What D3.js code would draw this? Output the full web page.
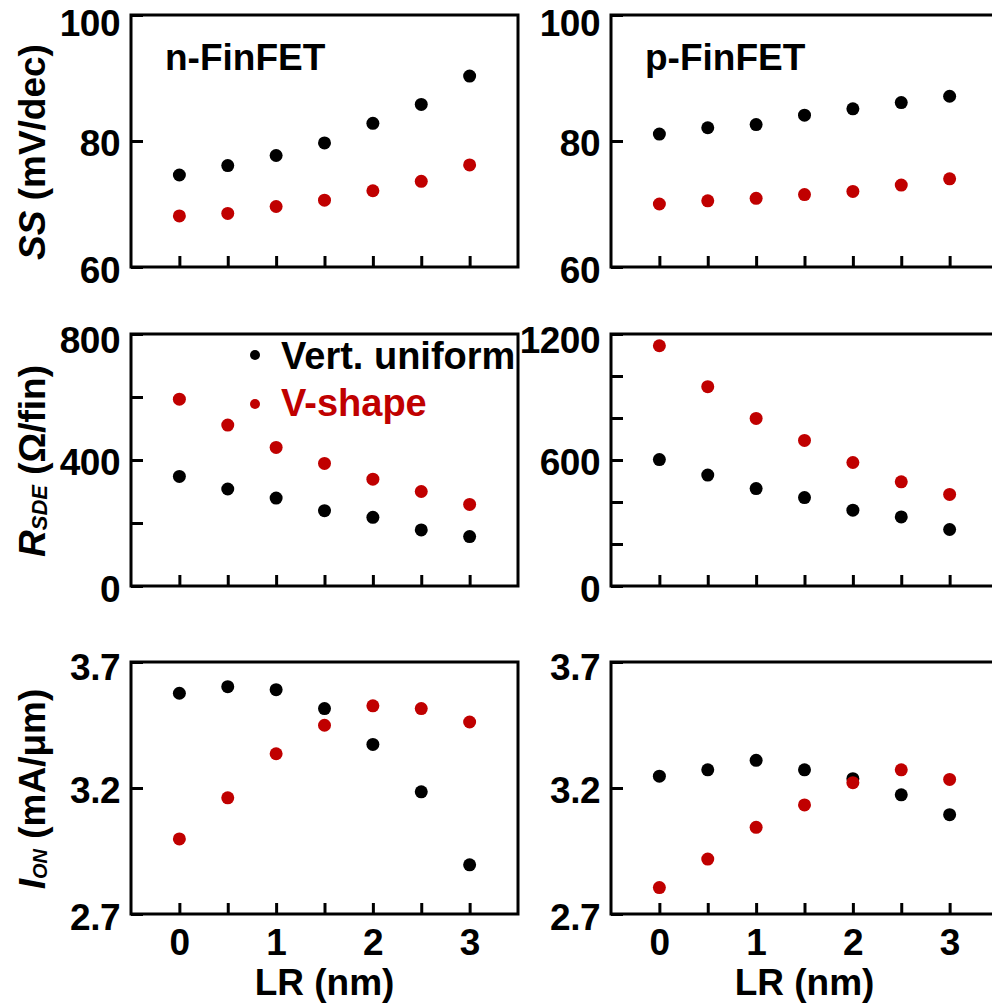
<!DOCTYPE html>
<html>
<head>
<meta charset="utf-8">
<script src="https://cdn.jsdelivr.net/npm/d3@7"></script>
<style>
  html, body { margin: 0; padding: 0; background: #fff; }
  svg { display: block; }
  text { font-family: "Liberation Sans", Arial, sans-serif; font-weight: bold; }
</style>
</head>
<body>
<svg id="chart" width="992" height="1006"></svg>
<script>
// ---------------- data ----------------
const lr = [0, 0.5, 1, 1.5, 2, 2.5, 3];
const seriesNames = ["Vert. uniform", "V-shape"];
const seriesColors = ["#000000", "#c00000"];

const ssN_uniform = [74.6, 76.1, 77.7, 79.7, 82.8, 85.8, 90.3];
const ssN_vshape  = [68.1, 68.5, 69.6, 70.6, 72.1, 73.6, 76.2];
const ssP_uniform = [81.1, 82.1, 82.6, 84.1, 85.1, 86.1, 87.1];
const ssP_vshape  = [70.0, 70.5, 70.9, 71.5, 72.0, 73.0, 74.0];

const rN_uniform = [348, 308, 279, 239, 218, 178, 157];
const rN_vshape  = [593, 511, 440, 389, 339, 300, 259];
const rP_uniform = [602, 528, 464, 421, 361, 329, 269];
const rP_vshape  = [1144, 949, 798, 693, 588, 496, 436];

const ionN_uniform = [3.576, 3.602, 3.590, 3.515, 3.373, 3.185, 2.895];
const ionN_vshape  = [2.998, 3.161, 3.336, 3.449, 3.526, 3.515, 3.462];
const ionP_uniform = [3.247, 3.272, 3.310, 3.272, 3.237, 3.173, 3.094];
const ionP_vshape  = [2.805, 2.918, 3.044, 3.133, 3.221, 3.272, 3.234];

const xTickValues = [0, 0.5, 1, 1.5, 2, 2.5, 3];
const xTickLabels = [0, 1, 2, 3];

const ssTicks = [60, 80, 100];
const ssLabels = [60, 80, 100];
const rNTicks = [0, 200, 400, 600, 800];
const rNLabels = [0, 400, 800];
const rPTicks = [0, 200, 400, 600, 800, 1000, 1200];
const rPLabels = [0, 600, 1200];
const ionTicks = [2.7, 3.2, 3.7];
const ionLabels = [2.7, 3.2, 3.7];

const deviceTitles = ["n-FinFET", "p-FinFET"];
const xTitle = "LR (nm)";

// ---------------- layout ----------------
const svg = d3.select("#chart");
svg.append("rect").attr("width", 992).attr("height", 1006).attr("fill", "#fff");

const FS = 37;
const colX = [131, 611];
const rowY = [15, 334, 662];
const PW = 387, PH = 252;
const topShift = [6, 4, 3];   // downward nudge of the top tick label in each row

const rows = [
  { domain: [60, 100], ticks: ssTicks, labels: ssLabels, fmt: d3.format("d"),
    data: [[ssN_uniform, ssN_vshape], [ssP_uniform, ssP_vshape]], ticksR: null },
  { domain: [0, 800], ticks: rNTicks, labels: rNLabels, fmt: d3.format("d"),
    data: [[rN_uniform, rN_vshape], [rP_uniform, rP_vshape]],
    domainR: [0, 1200], ticksR: rPTicks, labelsR: rPLabels },
  { domain: [2.7, 3.7], ticks: ionTicks, labels: ionLabels, fmt: d3.format(".1f"),
    data: [[ionN_uniform, ionN_vshape], [ionP_uniform, ionP_vshape]], ticksR: null }
];

rows.forEach((row, ri) => {
  [0, 1].forEach(ci => {
    const x0 = colX[ci], y0 = rowY[ri];
    const g = svg.append("g").attr("transform", `translate(${x0},${y0})`);
    const dom = (ci === 1 && row.domainR) ? row.domainR : row.domain;
    const ticks = (ci === 1 && row.ticksR) ? row.ticksR : row.ticks;
    const labels = (ci === 1 && row.labelsR) ? row.labelsR : row.labels;

    const x = d3.scaleLinear().domain([-0.5, 3.5]).range([0, PW]);
    const y = d3.scaleLinear().domain(dom).range([PH, 0]);

    // y axis (inward ticks)
    const ya = g.append("g").call(
      d3.axisLeft(y).tickValues(ticks).tickSize(-12).tickPadding(11)
        .tickFormat(d => labels.includes(d) ? row.fmt(d) : "")
    );
    ya.select(".domain").remove();
    ya.selectAll(".tick line").attr("stroke", "#000").attr("stroke-width", 3);
    ya.selectAll(".tick text").attr("font-size", FS).attr("fill", "#000")
      .attr("dy", "0.38em").attr("letter-spacing", "-0.5")
      .attr("y", d => d === dom[1] ? topShift[ri] : (d === dom[0] ? 1 : 0));

    // x axis (inward ticks)
    const xa = g.append("g").attr("transform", `translate(0,${PH})`).call(
      d3.axisBottom(x).tickValues(xTickValues).tickSize(-11).tickPadding(15)
        .tickFormat(d => (ri === 2 && xTickLabels.includes(d)) ? d3.format("d")(d) : "")
    );
    xa.select(".domain").remove();
    xa.selectAll(".tick line").attr("stroke", "#000").attr("stroke-width", 3);
    xa.selectAll(".tick text").attr("font-size", FS).attr("fill", "#000");

    // frame
    g.append("rect").attr("x", 0).attr("y", 0).attr("width", PW).attr("height", PH)
      .attr("fill", "none").attr("stroke", "#000").attr("stroke-width", 3);

    // points
    row.data[ci].forEach((vals, si) => {
      g.append("g").selectAll("circle").data(vals).join("circle")
        .attr("cx", (d, i) => x(lr[i]))
        .attr("cy", d => y(d))
        .attr("r", 6.5)
        .attr("fill", seriesColors[si]);
    });

    // device titles
    if (ri === 0) {
      g.append("text").attr("x", 34).attr("y", 55).attr("font-size", FS)
        .attr("fill", "#000").text(deviceTitles[ci]);
    }
    // legend
    if (ri === 1 && ci === 0) {
      const leg = [[124, 21, 35], [124, 70, 82]];
      seriesNames.forEach((nm, si) => {
        g.append("circle").attr("cx", leg[si][0]).attr("cy", leg[si][1]).attr("r", 5)
          .attr("fill", seriesColors[si]);
        g.append("text").attr("x", 150).attr("y", leg[si][2]).attr("font-size", 38)
          .attr("fill", seriesColors[si]).text(nm);
      });
    }
    // x title
    if (ri === 2) {
      g.append("text").attr("x", PW / 2).attr("y", PH + 81).attr("text-anchor", "middle")
        .attr("font-size", FS).attr("fill", "#000").text(xTitle);
    }
  });
});

// y axis titles
function yTitle(cy, parts) {
  const t = svg.append("text")
    .attr("transform", `translate(45,${cy}) rotate(-90)`)
    .attr("text-anchor", "middle").attr("font-size", FS).attr("fill", "#000");
  parts.forEach(p => {
    const ts = t.append("tspan").text(p.t);
    if (p.i) ts.attr("font-style", "italic");
    if (p.s) ts.attr("font-size", p.s);
    if (p.dy) ts.attr("dy", p.dy);
  });
}
yTitle(152, [{ t: "SS", i: true }, { t: " (mV/dec)" }]);
yTitle(461, [{ t: "R", i: true }, { t: "SDE", i: true, s: 22, dy: 2 }, { t: " (Ω/fin)", dy: -2 }]);
yTitle(789, [{ t: "I", i: true }, { t: "ON", i: true, s: 20, dy: 2 }, { t: " (mA/μm)", dy: -2 }]);
</script>
</body>
</html>
